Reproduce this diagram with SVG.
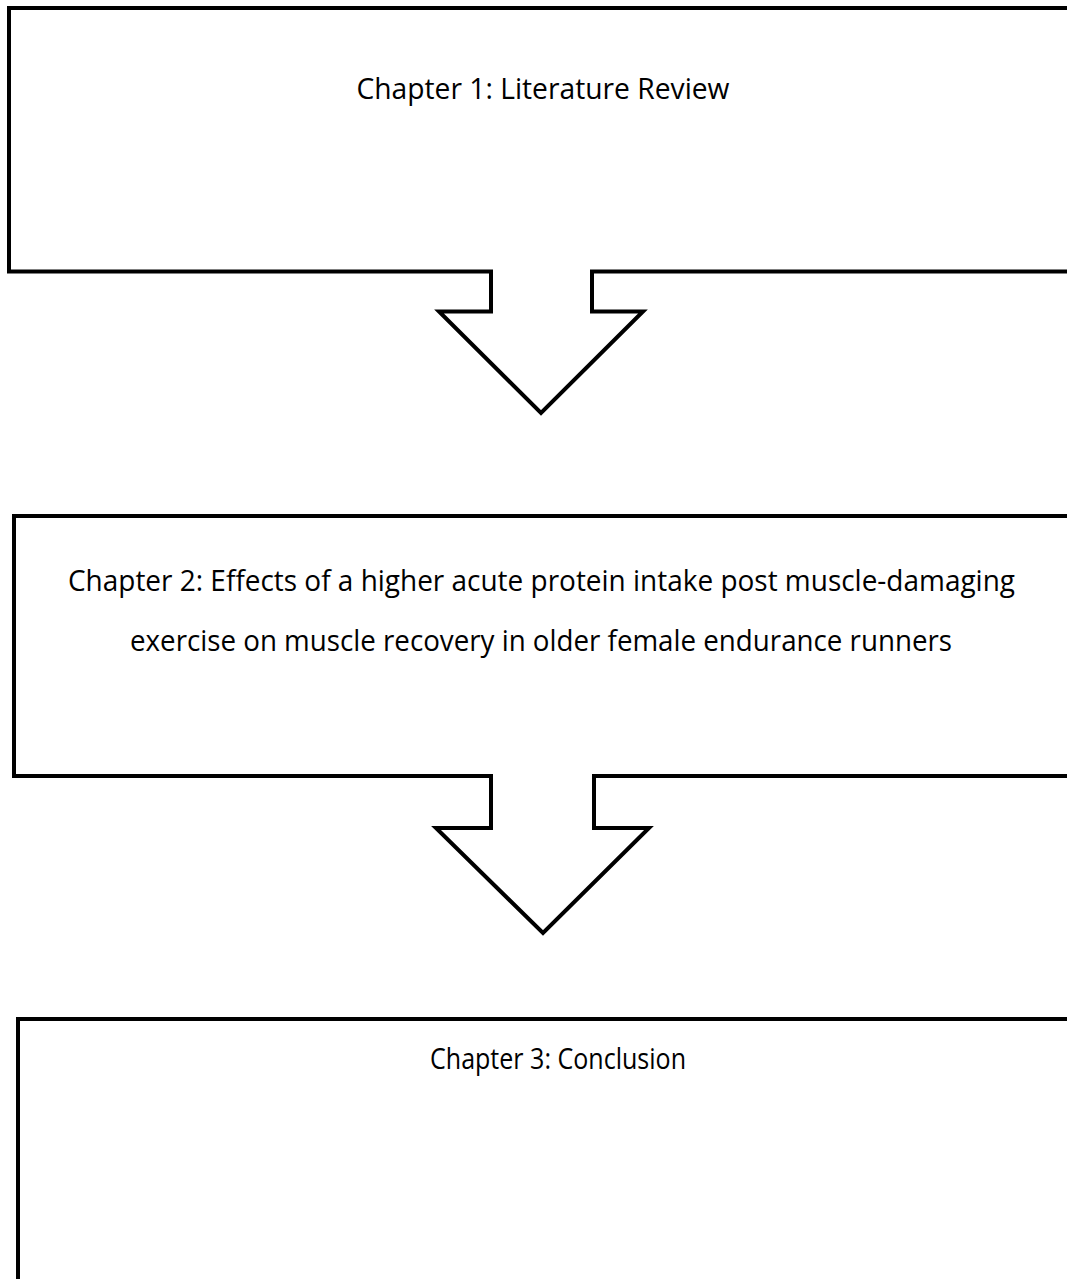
<svg xmlns="http://www.w3.org/2000/svg" width="1067" height="1279" viewBox="0 0 1067 1279">
<style>
.shape{fill:#fff;stroke:#000;stroke-width:4;stroke-linejoin:miter}
.lbl{font-family:"Open Sans","Liberation Sans",sans-serif;font-size:29px;fill:#000;text-anchor:middle}
</style>
<rect width="1067" height="1279" fill="#fff"/>
<g id="node1">
<path class="shape" d="M1075 8 H9 V271.5 H491 V311.5 H439 L541 413 L643 311.5 H592 V271.5 H1075"/>
<text class="lbl" x="543" y="99" textLength="373" lengthAdjust="spacingAndGlyphs">Chapter 1: Literature Review</text>
</g>
<g id="node2">
<path class="shape" d="M1075 516 H14 V776 H491 V828 H436 L543 933 L649 828 H594 V776 H1075"/>
<text class="lbl" x="541.5" y="591" textLength="947" lengthAdjust="spacingAndGlyphs">Chapter 2: Effects of a higher acute protein intake post muscle-damaging</text>
<text class="lbl" x="541" y="651" textLength="822" lengthAdjust="spacingAndGlyphs">exercise on muscle recovery in older female endurance runners</text>
</g>
<g id="node3">
<path class="shape" d="M1075 1019 H18 V1290"/>
<text class="lbl" x="558" y="1069" textLength="256" lengthAdjust="spacingAndGlyphs">Chapter 3: Conclusion</text>
</g>
<g id="connectors"></g>
</svg>
